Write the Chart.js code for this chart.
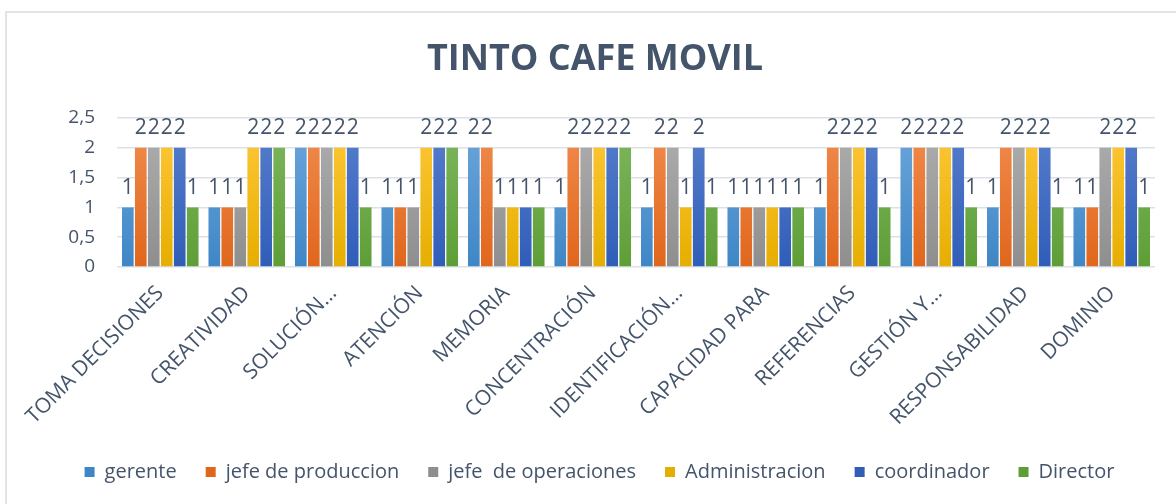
<!DOCTYPE html>
<html>
<head>
<meta charset="utf-8">
<script src="https://cdn.jsdelivr.net/npm/chart.js@4"></script>
<style>
  html, body { margin: 0; padding: 0; background: #ffffff; }
  #wrap { position: relative; width: 1176px; height: 504px; }
</style>
</head>
<body>
<div id="wrap"><canvas id="tintoChart" width="1176" height="504"></canvas></div>
<script>
// ======================================
// DATOS
// ======================================
const categorias = [
    'TOMA DECISIONES', 'CREATIVIDAD', 'SOLUCIÓN…', 'ATENCIÓN', 'MEMORIA', 'CONCENTRACIÓN',
    'IDENTIFICACIÓN…', 'CAPACIDAD PARA', 'REFERENCIAS', 'GESTIÓN Y…', 'RESPONSABILIDAD', 'DOMINIO'
];
const gerente          = [1, 1, 2, 1, 2, 1, 1, 1, 1, 2, 1, 1];
const jefeProduccion   = [2, 1, 2, 1, 2, 2, 2, 1, 2, 2, 2, 1];
const jefeOperaciones  = [2, 1, 2, 1, 1, 2, 2, 1, 2, 2, 2, 2];
const administracion   = [2, 2, 2, 2, 1, 2, 1, 1, 2, 2, 2, 2];
const coordinador      = [2, 2, 2, 2, 1, 2, 2, 1, 2, 2, 2, 2];
const director         = [1, 2, 1, 2, 1, 2, 1, 1, 1, 1, 1, 1];
const ticksY = [0, 0.5, 1, 1.5, 2, 2.5];
const titulo = 'TINTO CAFE MOVIL';

const TEXT_COLOR = '#44546A';
const FONT = "'Open Sans', sans-serif";

// colores: [arriba, abajo] para el degradado
const COLORES = {
    gerente:         ['#6FA8DC', '#3F86C6'],
    jefeProduccion:  ['#F28E50', '#E0661C'],
    jefeOperaciones: ['#B0B0B0', '#8E8E8E'],
    administracion:  ['#FFC93C', '#E6AE00'],
    coordinador:     ['#5A80CE', '#2F5DB8'],
    director:        ['#7FB861', '#5E9E36']
};

function gradiente(par) {
    return function(context) {
        const chart = context.chart;
        const area = chart.chartArea;
        if (!area) return par[0];
        const g = chart.ctx.createLinearGradient(0, area.top, 0, area.bottom);
        g.addColorStop(0, par[0]);
        g.addColorStop(1, par[1]);
        return g;
    };
}

function serie(label, data, par) {
    return {
        label: label,
        data: data,
        backgroundColor: gradiente(par),
        borderWidth: 0,
        categoryPercentage: 0.9,
        barPercentage: 0.9
    };
}

// etiquetas de datos encima de cada barra
const etiquetasPlugin = {
    id: 'etiquetas',
    afterDatasetsDraw(chart) {
        const ctx = chart.ctx;
        ctx.save();
        ctx.fillStyle = TEXT_COLOR;
        ctx.font = '21px ' + FONT;
        ctx.textAlign = 'center';
        ctx.textBaseline = 'bottom';
        chart.data.datasets.forEach((ds, i) => {
            const meta = chart.getDatasetMeta(i);
            meta.data.forEach((bar, j) => {
                ctx.fillText(String(ds.data[j]), bar.x, bar.y - 9);
            });
        });
        ctx.restore();
    }
};

// marco y título
const marcoPlugin = {
    id: 'marco',
    beforeDraw(chart) {
        const ctx = chart.ctx;
        ctx.save();
        ctx.fillStyle = '#ffffff';
        ctx.fillRect(0, 0, chart.width, chart.height);
        ctx.strokeStyle = '#E1E4E8';
        ctx.lineWidth = 2;
        ctx.beginPath();
        ctx.moveTo(6, chart.height + 2);
        ctx.lineTo(6, 12);
        ctx.lineTo(chart.width + 2, 12);
        ctx.stroke();

        ctx.fillStyle = TEXT_COLOR;
        ctx.font = 'bold 36px ' + FONT;
        ctx.textAlign = 'center';
        ctx.textBaseline = 'middle';
        ctx.fillText(titulo, 595, 60);
        ctx.restore();
    }
};

document.addEventListener('DOMContentLoaded', function() {
    const ctx = document.getElementById('tintoChart').getContext('2d');
    new Chart(ctx, {
        type: 'bar',
        data: {
            labels: categorias,
            datasets: [
                serie('gerente', gerente, COLORES.gerente),
                serie('jefe de produccion', jefeProduccion, COLORES.jefeProduccion),
                serie('jefe  de operaciones', jefeOperaciones, COLORES.jefeOperaciones),
                serie('Administracion', administracion, COLORES.administracion),
                serie('coordinador', coordinador, COLORES.coordinador),
                serie('Director', director, COLORES.director)
            ]
        },
        options: {
            responsive: false,
            animation: false,
            layout: { padding: { left: 44, right: 21, top: 118, bottom: 12 } },
            scales: {
                y: {
                    min: 0,
                    max: 2.5,
                    afterBuildTicks(scale) {
                        scale.ticks = ticksY.map(v => ({ value: v }));
                    },
                    afterFit(scale) { scale.width = 73; },
                    border: { display: false },
                    grid: { color: '#DDE0E4', lineWidth: 1.5, drawTicks: false },
                    ticks: {
                        color: TEXT_COLOR,
                        font: { family: FONT, size: 19 },
                        padding: 22,
                        callback: v => String(v).replace('.', ',')
                    }
                },
                x: {
                    border: { display: false },
                    grid: { display: false },
                    afterFit(scale) { scale.height = 166; },
                    ticks: {
                        color: TEXT_COLOR,
                        font: { family: FONT, size: 21 },
                        maxRotation: 45,
                        minRotation: 45,
                        autoSkip: false,
                        padding: 6,
                        labelOffset: 0
                    }
                }
            },
            plugins: {
                title: { display: false },
                legend: {
                    position: 'bottom',
                    labels: {
                        color: TEXT_COLOR,
                        font: { family: FONT, size: 20 },
                        boxWidth: 10,
                        boxHeight: 10,
                        padding: 29
                    }
                },
                tooltip: { enabled: false }
            }
        },
        plugins: [marcoPlugin, etiquetasPlugin]
    });
});
</script>
</body>
</html>
